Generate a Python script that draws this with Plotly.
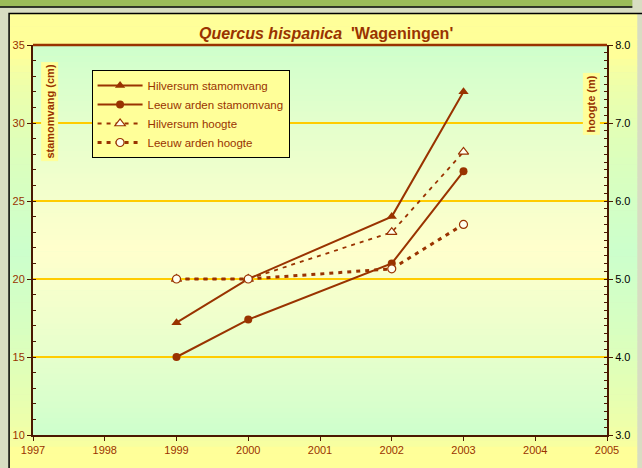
import plotly.graph_objects as go

# ---- data ----
years = [1999, 2000, 2002, 2003]
hilversum_stamomvang = [17.2, 20.0, 24.0, 32.0]
leeuwarden_stamomvang = [15.0, 17.4, 21.0, 26.9]
hilversum_hoogte = [5.0, 5.0, 5.6, 6.63]
leeuwarden_hoogte = [5.0, 5.0, 5.13, 5.7]

series_names = ["Hilversum stamomvang", "Leeuw arden stamomvang",
                "Hilversum hoogte", "Leeuw arden hoogte"]
x_ticks = [1997, 1998, 1999, 2000, 2001, 2002, 2003, 2004, 2005]
left_ticks = [10, 15, 20, 25, 30, 35]
right_ticks = [3.0, 4.0, 5.0, 6.0, 7.0, 8.0]

BROWN = "#993300"
AXIS = "#4a1800"
W, H = 642, 468
L, R, T, B = 33, 621, 45, 435


def px(x):
    return (x - L) / (R - L)


def py(y):
    return (B - y) / (B - T)


def mix(c1, c2, t):
    return "rgb(%d,%d,%d)" % tuple(round(a + (b - a) * t) for a, b in zip(c1, c2))


YEL = (255, 255, 153)
GRN = (204, 255, 204)
LYEL = (255, 255, 204)

shapes = []
# top olive band
shapes.append(dict(type="rect", xref="paper", yref="paper", x0=px(-5), x1=px(W + 5),
                   y0=py(6.5), y1=py(-5), fillcolor="#9BBB59", line=dict(width=0), layer="below"))
shapes.append(dict(type="line", xref="paper", yref="paper", x0=px(-5), x1=px(W + 5),
                   y0=py(7), y1=py(7), line=dict(color="black", width=1.5), layer="below"))
# outer chart area gradient
n = 70
top, bot = 13, H + 5
for i in range(n):
    y0 = top + (bot - top) * i / n
    y1 = top + (bot - top) * (i + 1) / n + 0.6
    c = (y0 + y1) / 2
    t = max(0.0, 1 - abs(c - 255) / 195) ** 0.55
    shapes.append(dict(type="rect", xref="paper", yref="paper", x0=px(9), x1=px(W + 10),
                       y0=py(y1), y1=py(y0), fillcolor=mix(YEL, GRN, t),
                       line=dict(width=0), layer="below"))
# chart area border
shapes.append(dict(type="rect", xref="paper", yref="paper", x0=px(8.5), x1=px(W + 20),
                   y0=py(H + 20), y1=py(13.5), line=dict(color="black", width=1.5), layer="below"))
# plot area gradient
n = 70
for i in range(n):
    y0 = T + (B - T) * i / n
    y1 = T + (B - T) * (i + 1) / n + 0.6
    c = (y0 + y1) / 2
    if c < 250:
        t = (c - T) / (250 - T)
    else:
        t = (B - c) / (B - 250)
    t = max(0.0, min(1.0, t)) ** 0.8
    shapes.append(dict(type="rect", xref="paper", yref="paper", x0=0, x1=1,
                       y0=py(min(y1, B)), y1=py(y0), fillcolor=mix(GRN, LYEL, t),
                       line=dict(width=0), layer="below"))
# top frame line of plot
shapes.append(dict(type="line", xref="paper", yref="paper", x0=0, x1=1, y0=1, y1=1,
                   line=dict(color=BROWN, width=2.5), layer="above"))

fig = go.Figure()
fig.add_trace(go.Scatter(x=years, y=hilversum_stamomvang, name=series_names[0], mode="lines+markers",
                         line=dict(color=BROWN, width=2),
                         marker=dict(symbol="triangle-up", size=9, color=BROWN)))
fig.add_trace(go.Scatter(x=years, y=leeuwarden_stamomvang, name=series_names[1], mode="lines+markers",
                         line=dict(color=BROWN, width=2),
                         marker=dict(symbol="circle", size=8, color=BROWN)))
fig.add_trace(go.Scatter(x=years, y=hilversum_hoogte, name=series_names[2], mode="lines+markers",
                         yaxis="y2", line=dict(color=BROWN, width=1.8, dash="4px,5px"),
                         marker=dict(symbol="triangle-up", size=9, color="#FFFFEE",
                                     line=dict(color=BROWN, width=1.2))))
fig.add_trace(go.Scatter(x=years, y=leeuwarden_hoogte, name=series_names[3], mode="lines+markers",
                         yaxis="y2", line=dict(color=BROWN, width=3, dash="4px,5px"),
                         marker=dict(symbol="circle", size=8, color="#FFFFEE",
                                     line=dict(color=BROWN, width=1.2))))

fig.update_layout(
    width=W, height=H, autosize=False,
    margin=dict(l=L, r=W - R, t=T, b=H - B, pad=0),
    paper_bgcolor="#D8DDC2",
    plot_bgcolor="rgba(0,0,0,0)",
    font=dict(family="Liberation Sans, Arial, sans-serif", size=11, color=BROWN),
    shapes=shapes,
    showlegend=True,
    legend=dict(x=px(93), y=py(70), xanchor="left", yanchor="top",
                bgcolor="#FFFF99", bordercolor="black", borderwidth=1,
                font=dict(size=11.5, color=BROWN), tracegroupgap=0, itemwidth=45),
    xaxis=dict(range=[1997, 2005], tickvals=x_ticks, ticktext=[str(v) for v in x_ticks],
               showgrid=False, zeroline=False, showline=True, linecolor=AXIS, linewidth=2,
               ticks="outside", ticklen=4, tickcolor=AXIS, tickfont=dict(size=11, color=BROWN)),
    yaxis=dict(range=[10, 35], tickvals=left_ticks, showgrid=True, gridcolor="#FFCC00", gridwidth=2,
               zeroline=False, showline=True, linecolor=AXIS, linewidth=2,
               ticks="outside", ticklen=4, tickcolor=AXIS, tickfont=dict(size=11, color=BROWN),
               minor=dict(dtick=1, ticks="inside", ticklen=3, tickcolor=AXIS, showgrid=False)),
    yaxis2=dict(range=[3, 8], tickvals=right_ticks, tickformat=".1f", overlaying="y", side="right",
                showgrid=False, zeroline=False, showline=True, linecolor=AXIS, linewidth=2,
                ticks="outside", ticklen=4, tickcolor=AXIS, tickfont=dict(size=11, color="black"),
                minor=dict(dtick=0.1, ticks="inside", ticklen=3, tickcolor=AXIS, showgrid=False)),
    annotations=[
        dict(text="<b><i>Quercus hispanica</i>  'Wageningen'</b>", xref="paper", yref="paper",
             x=px(333), y=py(33), xanchor="center", yanchor="middle", showarrow=False,
             font=dict(size=16, color=BROWN)),
        dict(text="<b>stamomvang (cm)</b>", xref="paper", yref="paper", x=px(50), y=py(112),
             xanchor="center", yanchor="middle", textangle=-90, showarrow=False,
             bgcolor="#FFFF99", borderpad=2, font=dict(size=11, color=BROWN)),
        dict(text="<b>hoogte (m)</b>", xref="paper", yref="paper", x=px(605), y=py(104),
             xanchor="center", yanchor="middle", textangle=-90, showarrow=False,
             bgcolor="#FFFF99", borderpad=2, font=dict(size=11, color=BROWN)),
    ],
)

fig.write_html(
    "out.html",
    config={"responsive": False, "displayModeBar": False},
    post_script="document.body.style.margin='0';document.body.style.padding='0';"
                "document.body.style.overflow='hidden';"
                "document.documentElement.style.overflow='hidden';",
)
